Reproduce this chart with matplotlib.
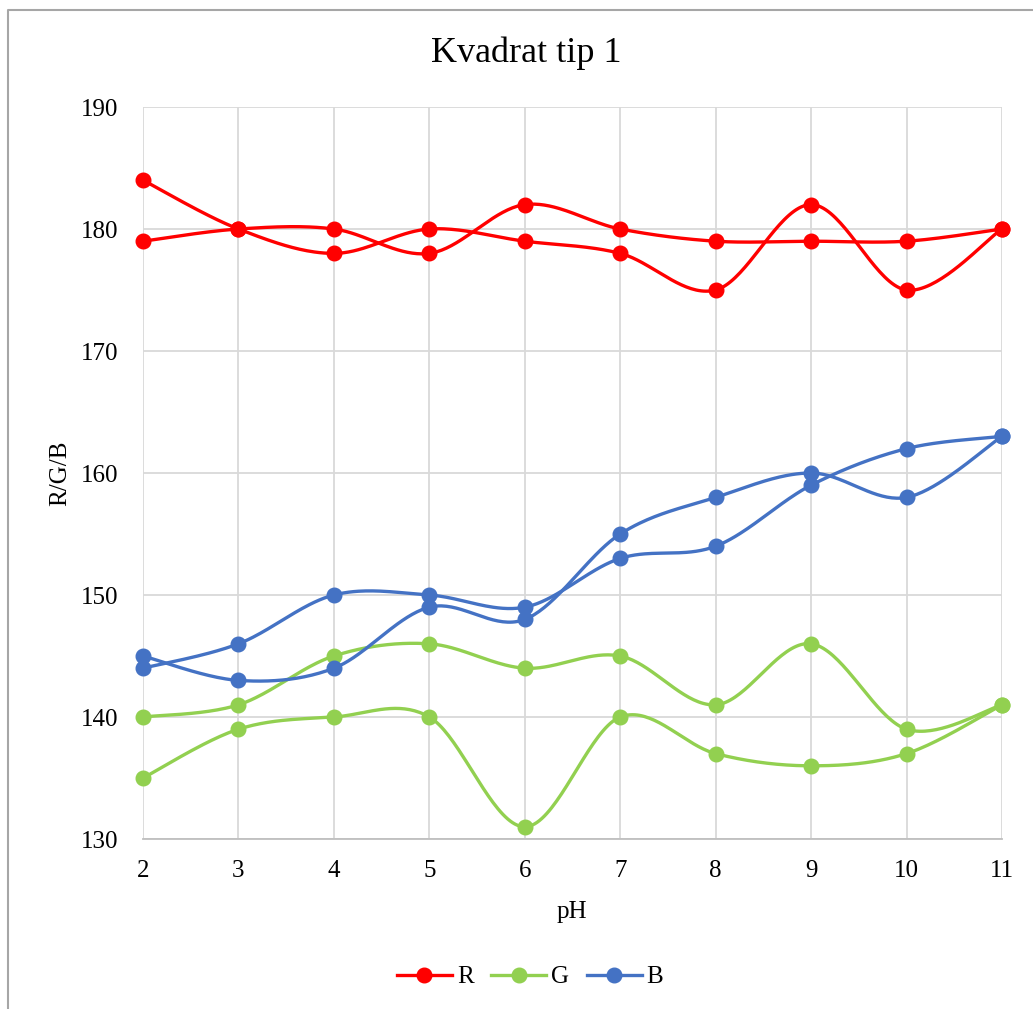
import numpy as np
import matplotlib
matplotlib.use("Agg")
import matplotlib.pyplot as plt
from matplotlib.lines import Line2D

pH = [2, 3, 4, 5, 6, 7, 8, 9, 10, 11]
R1 = [184, 180, 178, 180, 179, 178, 175, 182, 175, 180]
R2 = [179, 180, 180, 178, 182, 180, 179, 179, 179, 180]
G1 = [140, 141, 145, 146, 144, 145, 141, 146, 139, 141]
G2 = [135, 139, 140, 140, 131, 140, 137, 136, 137, 141]
B1 = [145, 143, 144, 149, 148, 155, 158, 160, 158, 163]
B2 = [144, 146, 150, 150, 149, 153, 154, 159, 162, 163]

title = "Kvadrat tip 1"
xlabel = "pH"
ylabel = "R/G/B"

C_R = "#FF0000"
C_G = "#92D050"
C_B = "#4472C4"

plt.rcParams['font.family'] = ['Liberation Serif', 'DejaVu Serif']


def smooth(x, y, n=40):
    x = np.asarray(x, float)
    y = np.asarray(y, float)
    P = np.column_stack([x, y])
    Pext = np.vstack([P[0], P, P[-1]])
    out = []
    t = np.linspace(0, 1, n)
    for i in range(len(P) - 1):
        p0 = Pext[i + 1]
        p3 = Pext[i + 2]
        c1 = p0 + (Pext[i + 2] - Pext[i]) / 6.0
        c2 = p3 - (Pext[i + 3] - Pext[i + 1]) / 6.0
        seg = ((1 - t) ** 3)[:, None] * p0 + (3 * (1 - t) ** 2 * t)[:, None] * c1 \
            + (3 * (1 - t) * t ** 2)[:, None] * c2 + (t ** 3)[:, None] * p3
        out.append(seg if i == 0 else seg[1:])
    s = np.vstack(out)
    return s[:, 0], s[:, 1]


fig = plt.figure(figsize=(10.33, 10.09), dpi=100)
ax = fig.add_axes([143 / 1033, 1 - 839 / 1009, (1002 - 143) / 1033, (839 - 107) / 1009])

lw = 2.4
ms = 10.5
for ys, c in [(R1, C_R), (R2, C_R), (G1, C_G), (G2, C_G), (B1, C_B), (B2, C_B)]:
    sx, sy = smooth(pH, ys)
    ax.plot(sx, sy, color=c, lw=lw, solid_capstyle='round', zorder=3, clip_on=False)
    ax.plot(pH, ys, 'o', color=c, ms=ms, zorder=4, clip_on=False)

ax.set_xlim(2, 11)
ax.set_ylim(130, 190)
ax.set_xticks(pH)
ax.set_yticks(np.arange(130, 191, 10))
ax.grid(True, color="#d9d9d9", lw=1.3, zorder=0)
ax.set_axisbelow(True)
for side in ['top', 'right', 'left']:
    ax.spines[side].set_visible(False)
ax.spines['bottom'].set_color("#bfbfbf")
ax.spines['bottom'].set_linewidth(1.3)
ax.tick_params(axis='both', length=0, labelsize=18)
ax.tick_params(axis='y', pad=18)
ax.tick_params(axis='x', pad=15)

fig.text(526 / 1033, 1 - 53 / 1009, title, ha='center', va='center', fontsize=26)
fig.text(60 / 1033, 1 - 473 / 1009, ylabel, ha='center', va='center', rotation=90, fontsize=18)
fig.text(572 / 1033, 1 - 912 / 1009, xlabel, ha='center', va='center', fontsize=18)

handles = [Line2D([], [], color=c, lw=lw, marker='o', ms=ms) for c in (C_R, C_G, C_B)]
fig.legend(handles, ["R", "G", "B"], loc='center', bbox_to_anchor=(530 / 1033, 1 - 977 / 1009),
           ncol=3, frameon=False, fontsize=18, handlelength=2.2, handletextpad=0.2,
           columnspacing=0.7)

# chart frame (left and top edges visible)
fig.add_artist(Line2D([8 / 1033, 8 / 1033, 1.0], [0.0, 1 - 10 / 1009, 1 - 10 / 1009],
                      transform=fig.transFigure, color="#a6a6a6", lw=1.5))

fig.savefig("out.png", dpi=100)
